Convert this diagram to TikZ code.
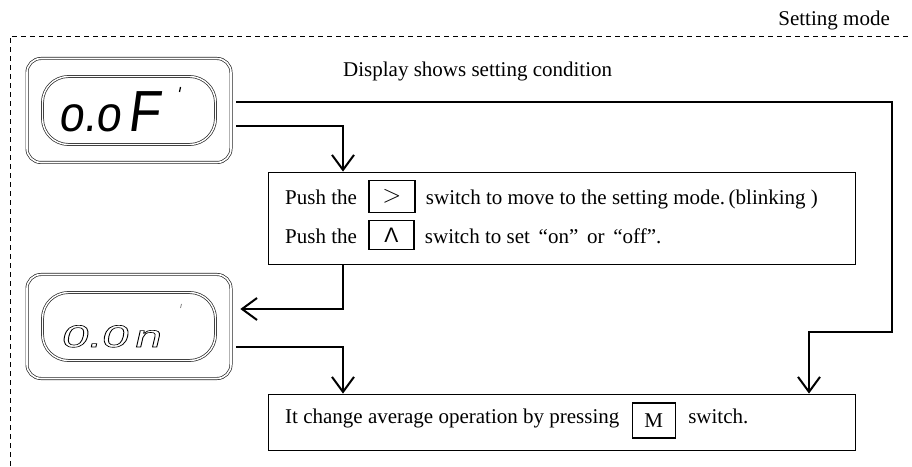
\documentclass[tikz,border=0pt]{standalone}
\usepackage{fontspec}
\usepackage{graphicx}
\setmainfont{Liberation Serif}
\setsansfont{Liberation Sans}
\newfontfamily\segfont{Liberation Sans}[FakeSlant=0.15]
\usetikzlibrary{positioning, arrows.meta, calc}

% outlined digits of the second display
\newcommand{\hollow}[1]{\special{pdf:literal direct 1 Tr 0.6 w}#1\special{pdf:literal direct 0 Tr}}

\begin{document}
\begin{tikzpicture}[
    x=1pt, y=1pt,
    font=\fontsize{21}{25}\selectfont,
    words/.style={
        inner sep=0pt,
        text height=15pt,
        text depth=5pt
    },
    panel/.style={
        draw,
        line width=0.8pt,
        minimum width=587pt,
        inner sep=0pt
    },
    keycap/.style={
        draw,
        line width=1.6pt,
        minimum width=46pt,
        minimum height=32pt,
        inner sep=0pt
    },
    bezel/.style={
        draw=black!85,
        double=white,
        double distance=1.6pt,
        line width=0.7pt,
        rounded corners=14pt,
        minimum width=204pt,
        minimum height=104pt
    },
    glass/.style={
        draw=black!85,
        double=white,
        double distance=1.4pt,
        line width=0.7pt,
        rounded corners=26pt,
        minimum width=173pt,
        minimum height=68pt
    },
    flow/.style={
        -{Straight Barb[length=15pt, width=22pt]},
        line width=2pt
    }
]
\useasboundingbox (0,0) rectangle (912,466);

% Frame of the mode
\draw [dashed, dash pattern=on 5pt off 4pt, line width=0.8pt] (10,0) -- (10,430) -- (912,430);
\node (mode) [words, anchor=base east] at (890,440) {Setting mode};
\node (shows) [words, anchor=base west] at (343,389) {Display shows setting condition};

% Displays
\node (disp1) [bezel] at (129,355.5) {};
\node (glass1) [glass] at (disp1.center) {};
\node (readout1) [inner sep=0pt, anchor=base west, font=\segfont\fontsize{58}{58}\selectfont] at (58,334) {\scalebox{0.9}[1]{{\fontsize{50}{50}\selectfont o.o}\kern7pt F}};
\draw [line width=1.2pt] (179.5,374) -- (180.5,379);

\node (disp2) [bezel] at (129,139.5) {};
\node (glass2) [glass] at (disp2.center) {};
\node (readout2) [inner sep=0pt, anchor=base west, font=\segfont\fontsize{31}{31}\selectfont] at (60,119) {\scalebox{1.55}[1]{\hollow{0.0\kern4pt n}}};
\draw [line width=0.8pt, black!50] (180.5,158) -- (181.5,162);

% Setting box
\node (setbox) [panel, minimum height=92pt] at (561.5,248) {};
\node (push1) [words, anchor=base west] at (285,261) {Push the};
\node (keyright) [keycap, right=11pt of push1, yshift=3.5pt] {\fontsize{30}{30}\selectfont$>$};
\node (move) [words, right=10pt of keyright, yshift=-3.5pt] {switch to move to the setting mode.\,(blinking )};
\node (push2) [words, below=18pt of push1] {Push the};
\node (keyup) [keycap, right=11pt of push2, yshift=3.5pt, minimum width=45pt, minimum height=29pt] {\sffamily Λ};
\node (toset) [words, right=10pt of keyup, yshift=-3.5pt] {switch to set\,~“on”~\,or~\,“off”.};

% Average box
\node (avgbox) [panel, minimum height=56pt] at (561.5,44) {};
\node (change) [words, anchor=base west] at (285,43) {It change average operation by pressing};
\node (keym) [keycap, right=12pt of change, yshift=-2.5pt, minimum width=43pt, minimum height=35pt] {M};
\node (press) [words, right=12pt of keym, yshift=2.5pt] {switch.};

% Connections
\coordinate (bendR) at (892,134);
\draw [flow] ($(disp1.east)+(5,8.5)$) -| (bendR) -| ([xshift=247.5pt]avgbox.north);
\draw [flow] ($(disp1.east)+(5,-15.5)$) -| ([xshift=-218.5pt]setbox.north);
\draw [flow] ([xshift=-218.5pt]setbox.south) |- ($(disp2.east)+(9,17.5)$);
\draw [flow] ($(disp2.east)+(5,-20.5)$) -| ([xshift=-218.5pt]avgbox.north);

\end{tikzpicture}
\end{document}
